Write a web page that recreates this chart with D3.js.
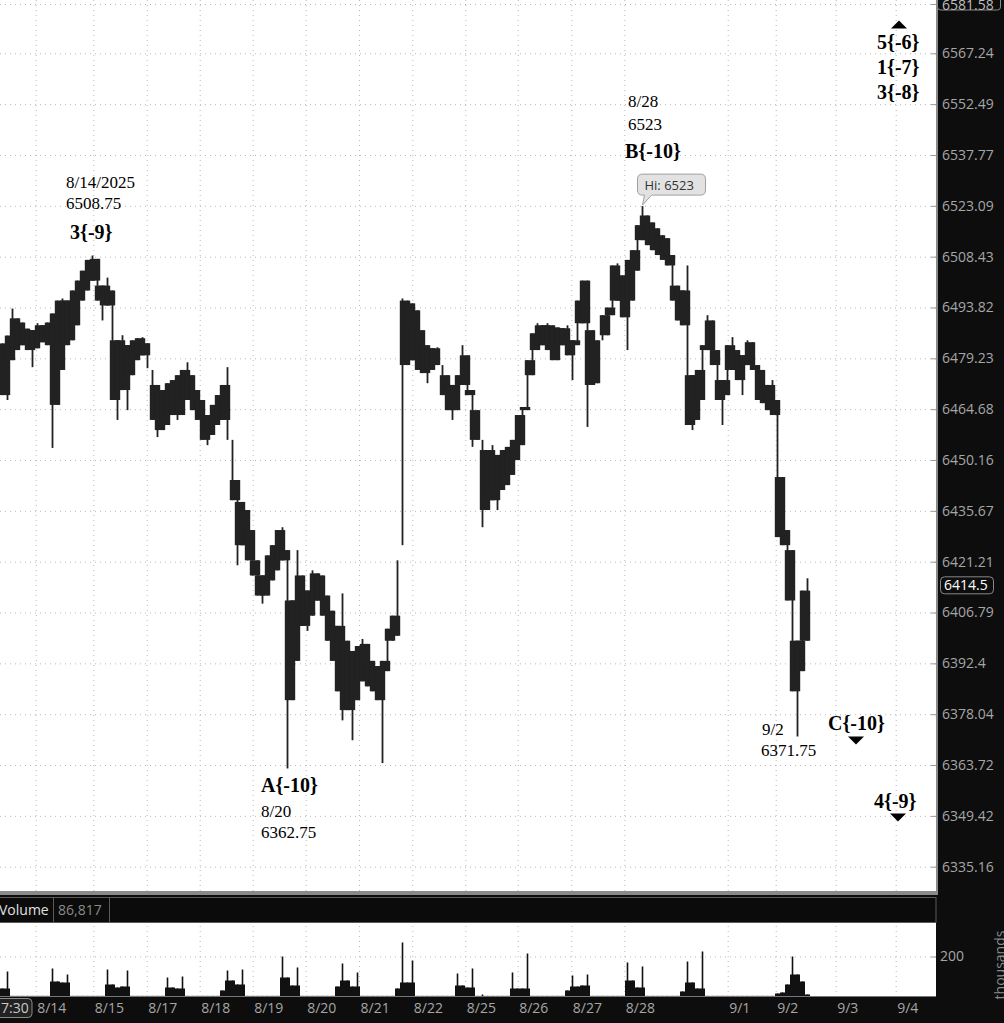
<!DOCTYPE html>
<html><head><meta charset="utf-8">
<script src="https://cdn.jsdelivr.net/npm/d3@7"></script>
<style>body{margin:0;background:#fff;overflow:hidden} svg{display:block}</style>
</head><body><svg id="c" width="1004" height="1023"></svg>
<script>
// ---------- DATA ----------
const priceTicks = [6581.58, 6567.24, 6552.49, 6537.77, 6523.09, 6508.43, 6493.82, 6479.23, 6464.68, 6450.16, 6435.67, 6421.21, 6406.79, 6392.4, 6378.04, 6363.72, 6349.42, 6335.16];
const dateLabels = ["8/14","8/15","8/17","8/18","8/19","8/20","8/21","8/22","8/25","8/26","8/27","8/28","9/1","9/2","9/3","9/4"];
const dateBars = [7.14, 18.66, 29.34, 39.94, 50.54, 61.14, 71.8, 82.46, 93.06, 103.54, 114.26, 124.86, 145.54, 155.14, 167.14, 179.14];
const highs = [6483.5,6485.75,6493.5,6490.7,6489.5,6487.75,6487.3,6489.3,6488.7,6489.5,
6492.1,6495.8,6496.4,6495.8,6498.7,6501.55,6504.4,6507.5,6508.75,6507.8,
6500.1,6502.4,6498.7,6484.4,6485.85,6483.0,6484.4,6485.0,6485.3,6483.56,
6475.9,6471.6,6470.15,6472.1,6473.0,6474.4,6475.9,6478.1,6474.4,6470.15,
6467.3,6463.0,6465.9,6468.7,6471.6,6476.7,6455.9,6444.45,6438.2,6435.9,
6430.2,6421.6,6417.3,6423.0,6425.9,6430.2,6431.0,6424.5,6410.2,6424.5,
6417.3,6413.0,6418.75,6417.9,6417.3,6411.6,6407.3,6403.0,6412.2,6398.8,
6395.9,6397.3,6399.3,6397.9,6393.1,6391.6,6393.1,6402.2,6405.9,6421.6,
6496.4,6495.8,6495.0,6493.0,6487.3,6483.0,6482.1,6482.4,6477.3,6474.4,
6471.6,6474.4,6483.0,6480.1,6470.15,6464.4,6455.9,6453.0,6454.4,6451.6,
6453.0,6453.9,6455.9,6463.0,6465.3,6478.7,6486.4,6489.3,6488.7,6489.3,
6488.7,6488.1,6487.85,6488.7,6484.4,6495.8,6501.55,6501.55,6487.3,6484.4,
6491.6,6493.8,6505.9,6506.5,6503.0,6507.5,6510.3,6517.5,6523.0,6520.3,
6518.3,6516.6,6514.6,6513.75,6508.9,6500.1,6498.7,6505.9,6474.4,6475.9,
6483.0,6491.6,6490.1,6481.6,6473.0,6483.0,6485.3,6481.6,6480.1,6484.4,
6483.85,6477.3,6475.9,6471.6,6473.0,6467.3,6445.3,6430.2,6424.5,6398.8,
6413.0,6416.5];
const lows = [6468.7,6467.3,6478.7,6481.6,6483.0,6481.6,6476.7,6482.1,6483.85,6483.0,
6453.6,6465.9,6475.9,6483.0,6484.4,6488.7,6495.8,6498.7,6501.55,6495.8,
6490.1,6494.4,6467.3,6461.6,6470.15,6464.4,6474.4,6478.7,6480.1,6476.4,
6461.6,6456.7,6458.7,6460.15,6463.0,6461.6,6463.0,6467.3,6464.4,6461.6,
6455.9,6454.4,6457.3,6460.15,6461.6,6455.9,6438.7,6420.2,6425.9,6421.6,
6417.3,6411.6,6409.3,6411.6,6415.9,6418.75,6421.6,6362.75,6382.0,6393.1,
6403.0,6401.6,6405.9,6410.2,6405.9,6398.8,6393.1,6384.5,6376.3,6379.2,
6370.7,6382.0,6387.35,6385.9,6384.5,6382.0,6364.25,6390.2,6398.8,6400.2,
6425.9,6477.3,6478.7,6475.9,6475.0,6472.1,6475.9,6477.3,6468.7,6464.4,
6461.6,6464.4,6471.6,6468.7,6453.9,6455.9,6431.0,6435.9,6438.7,6435.9,
6441.6,6443.0,6445.9,6450.16,6454.4,6464.4,6474.4,6481.6,6483.0,6481.6,
6478.7,6478.7,6483.0,6480.1,6473.0,6483.0,6489.3,6459.6,6471.6,6472.1,
6484.4,6485.85,6491.6,6495.8,6491.0,6481.6,6495.8,6504.4,6513.2,6511.75,
6510.3,6508.9,6507.5,6505.9,6495.8,6490.1,6488.7,6460.15,6458.7,6461.6,
6467.3,6481.6,6477.3,6467.3,6460.15,6468.7,6475.9,6473.0,6468.7,6477.3,
6475.9,6467.3,6466.4,6464.4,6463.0,6428.2,6425.9,6410.2,6384.5,6371.75,
6390.2,6398.8];
const volumes = [40,125,3,3,3,3,3,3,3,3,
140,75,70,110,3,3,3,3,3,3,
3,135,60,45,50,130,3,3,3,3,
3,3,3,95,45,40,100,3,3,3,
3,3,3,3,30,130,80,60,135,3,
3,3,3,3,3,3,200,95,55,145,
3,3,3,3,3,3,3,50,165,80,
50,120,3,3,3,3,3,3,3,40,
270,70,180,3,3,3,3,3,3,3,
3,115,55,45,140,3,10,3,3,3,
3,3,120,40,40,215,3,3,3,3,
3,3,3,30,105,50,55,110,3,3,
3,3,3,3,3,170,80,45,150,3,
3,3,3,3,3,3,25,175,70,40,
225,3,3,3,3,3,3,3,3,3,
3,3,3,3,3,15,20,60,200,110,
75,10];
const volumeTicks = [0, 200];
const lastPrice = 6414.5;
const topPrice = 6581.58;

// ---------- LAYOUT ----------
const W = 1004, H = 1023;
const PX = 936;
const MAIN_B = 891;
const VOL_T = 923, VOL_B = 997;
const svg = d3.select('#c');
const AX = "'Open Sans','Noto Sans',sans-serif";
const SERIF = "'Liberation Serif','Times New Roman',serif";

const x = d3.scaleLinear().domain([0, 187.2]).range([0, PX]);
const y = d3.scaleLog().domain([6335.16, 6567.24]).range([866.7, 53.3]);
const yv = d3.scaleLinear().domain([0, 200]).range([996.5, 956.5]);

svg.append('rect').attr('width', W).attr('height', H).attr('fill', '#0d0d0d');
svg.append('rect').attr('x', 0).attr('y', 0).attr('width', PX).attr('height', MAIN_B).attr('fill', '#fff');
svg.append('rect').attr('x', 0).attr('y', VOL_T).attr('width', PX).attr('height', VOL_B - VOL_T).attr('fill', '#fff');
svg.append('rect').attr('x', 0).attr('y', MAIN_B).attr('width', PX + 2).attr('height', 4).attr('fill', '#8a8a8a');
svg.append('rect').attr('x', -1).attr('y', 897.5).attr('width', PX + 1).attr('height', 25).attr('fill', '#0b0b0b').attr('stroke', '#5a5a5a');
svg.append('line').attr('x1', PX + 1).attr('x2', PX + 1).attr('y1', 0).attr('y2', MAIN_B).attr('stroke', '#8a8a8a').attr('stroke-width', 2);

const defs = svg.append('defs');
defs.append('clipPath').attr('id', 'mainClip').append('rect').attr('x', 0).attr('y', 0).attr('width', PX).attr('height', MAIN_B);
defs.append('clipPath').attr('id', 'volClip').append('rect').attr('x', 0).attr('y', VOL_T).attr('width', W).attr('height', VOL_B - VOL_T);

// ---------- GRID ----------
function styleGrid(g) { g.select('.domain').remove(); g.selectAll('line').attr('stroke', '#b8b8b8').attr('stroke-dasharray', '1,4'); }
styleGrid(svg.append('g').attr('transform', `translate(${PX},0)`)
  .call(d3.axisLeft(y).tickValues(priceTicks).tickSize(PX).tickFormat('')));
const tickMarks = svg.append('g').attr('transform', `translate(${PX},0)`)
  .call(d3.axisLeft(y).tickValues(priceTicks).tickSize(5).tickFormat(''));
tickMarks.select('.domain').remove();
tickMarks.selectAll('line').attr('stroke', '#9a9a9a');
styleGrid(svg.append('g').attr('transform', `translate(0,${MAIN_B})`)
  .call(d3.axisTop(x).tickValues(dateBars).tickSize(MAIN_B).tickFormat('')));
styleGrid(svg.append('g').attr('transform', `translate(0,${VOL_B})`)
  .call(d3.axisTop(x).tickValues(dateBars).tickSize(VOL_B - VOL_T).tickFormat('')));
styleGrid(svg.append('g').attr('transform', `translate(${PX},0)`)
  .call(d3.axisLeft(yv).tickValues([200]).tickSize(PX).tickFormat('')));

// ---------- PRICE BARS ----------
const bw = x(1) - x(0);
const bars = svg.append('g').attr('clip-path', 'url(#mainClip)');
const idx = d3.range(highs.length);
// thin high-low line of each bar
bars.selectAll('rect.hl').data(idx).join('rect').attr('class', 'hl')
  .attr('x', i => x(i + 0.5) - 0.9).attr('width', 1.8)
  .attr('y', i => y(highs[i]))
  .attr('height', i => Math.max(1.5, y(lows[i]) - y(highs[i])))
  .attr('fill', '#222');
// dense part: where a bar overlaps its neighbours
const dense = [];
idx.forEach(i => {
  [i - 1, i + 1].forEach(j => {
    if (j < 0 || j >= highs.length) return;
    const lo = Math.max(lows[i], lows[j]), hi = Math.min(highs[i], highs[j]);
    if (hi > lo) dense.push({ i, lo, hi });
  });
});
bars.selectAll('rect.dn').data(dense).join('rect').attr('class', 'dn')
  .attr('x', d => x(d.i) - 0.2).attr('width', bw + 0.4)
  .attr('y', d => y(d.hi)).attr('height', d => Math.max(1, y(d.lo) - y(d.hi)))
  .attr('fill', '#222');

// ---------- VOLUME ----------
const vol = svg.append('g').attr('clip-path', 'url(#volClip)');
vol.selectAll('rect.vl').data(idx).join('rect').attr('class', 'vl')
  .attr('x', i => x(i + 0.5) - 0.8).attr('width', 1.6)
  .attr('y', i => yv(volumes[i])).attr('height', i => yv(0) - yv(volumes[i]))
  .attr('fill', '#111');
vol.selectAll('rect.vb').data(idx).join('rect').attr('class', 'vb')
  .attr('x', i => x(i)).attr('width', bw)
  .attr('y', i => yv(Math.min(volumes[i], Math.max(volumes[i - 1] || 0, volumes[i + 1] || 0))))
  .attr('height', i => yv(0) - yv(Math.min(volumes[i], Math.max(volumes[i - 1] || 0, volumes[i + 1] || 0))))
  .attr('fill', '#111');

// ---------- AXES ----------
const yAxis = svg.append('g').attr('transform', `translate(${PX},0)`)
  .call(d3.axisRight(y).tickValues(priceTicks.slice(1)).tickSize(0).tickPadding(6).tickFormat(d => String(d)));
yAxis.select('.domain').remove();
yAxis.selectAll('text').attr('fill', '#a6a6a6').style('font-family', AX).style('font-size', '14px');

svg.append('rect').attr('x', 937.5).attr('y', -6).attr('width', 63).attr('height', 16).attr('rx', 3)
  .attr('fill', '#0d0d0d').attr('stroke', '#8a8a8a');
svg.append('text').attr('x', 942).attr('y', y(topPrice) + 2).attr('dy', '0.32em').text(String(topPrice))
  .attr('fill', '#bdbdbd').style('font-family', AX).style('font-size', '14px');

svg.append('rect').attr('x', 940.5).attr('y', y(lastPrice) - 8.5).attr('width', 53).attr('height', 17).attr('rx', 4)
  .attr('fill', '#0d0d0d').attr('stroke', '#8a8a8a');
svg.append('text').attr('x', 944).attr('y', y(lastPrice)).attr('dy', '0.34em').text(String(lastPrice))
  .attr('fill', '#fff').style('font-family', AX).style('font-size', '14px');

const vAxis = svg.append('g').attr('transform', `translate(${PX},0)`).attr('clip-path', 'url(#volClip)')
  .call(d3.axisRight(yv).tickValues(volumeTicks).tickSize(0).tickPadding(4).tickFormat(d => String(d)));
vAxis.select('.domain').remove();
vAxis.selectAll('text').attr('fill', '#a6a6a6').style('font-family', AX).style('font-size', '14px')
  .attr('dy', d => d === 0 ? '0.9em' : '0.32em');
const vTick = svg.append('g').attr('transform', `translate(${PX},0)`)
  .call(d3.axisLeft(yv).tickValues([200]).tickSize(5).tickFormat(''));
vTick.select('.domain').remove();
vTick.selectAll('line').attr('stroke', '#9a9a9a');
svg.append('line').attr('x1', 0).attr('x2', PX).attr('y1', VOL_B - 0.5).attr('y2', VOL_B - 0.5).attr('stroke', '#777');

svg.append('text').attr('transform', 'translate(1005,965) rotate(-90)').attr('text-anchor', 'middle')
  .text('thousands').attr('fill', '#8a8a8a').style('font-family', AX).style('font-size', '14px');

const xAxis = svg.append('g').attr('transform', `translate(0,${VOL_B})`)
  .call(d3.axisBottom(x).tickValues(dateBars).tickSize(0).tickPadding(0).tickFormat((d, i) => dateLabels[i]));
xAxis.select('.domain').remove();
xAxis.selectAll('text').attr('fill', '#a6a6a6').attr('text-anchor', 'start').attr('x', 1).attr('y', 16)
  .attr('dy', 0).style('font-family', AX).style('font-size', '14px');

svg.append('rect').attr('x', -8).attr('y', 998.5).attr('width', 40).attr('height', 19).attr('rx', 4)
  .attr('fill', '#222').attr('stroke', '#8a8a8a');
svg.append('text').attr('x', 1).attr('y', 1013).text('7:30').attr('fill', '#c8c8c8')
  .style('font-family', AX).style('font-size', '14px');

svg.append('text').attr('x', -1).attr('y', 915).text('Volume').attr('fill', '#e0e0e0').style('font-family', AX).style('font-size', '14px');
svg.append('line').attr('x1', 53.5).attr('x2', 53.5).attr('y1', 898).attr('y2', 922).attr('stroke', '#5a5a5a');
svg.append('text').attr('x', 58).attr('y', 915).text('86,817').attr('fill', '#8a8a8a').style('font-family', AX).style('font-size', '14px');
svg.append('line').attr('x1', 109.5).attr('x2', 109.5).attr('y1', 898).attr('y2', 922).attr('stroke', '#5a5a5a');

// ---------- HI CALLOUT ----------
const hiIdx = highs.indexOf(d3.max(highs));
const hx = x(hiIdx + 0.5), hy = y(highs[hiIdx]);
const bx = hx - 5, by = hy - 32, bwid = 68, bht = 21;
svg.append('path')
  .attr('d', `M${bx + 5},${by} h${bwid - 10} q5,0 5,5 v${bht - 10} q0,5 -5,5 H${hx + 9} L${hx},${hy - 1} L${hx + 2},${by + bht} H${bx + 5} q-5,0 -5,-5 v${-(bht - 10)} q0,-5 5,-5 Z`)
  .attr('fill', '#e2e2e2').attr('stroke', '#a0a0a0');
svg.append('text').attr('x', bx + 7).attr('y', by + 15.5).text('Hi: ' + highs[hiIdx])
  .attr('fill', '#333').style('font-family', AX).style('font-size', '13px');

// ---------- ANNOTATIONS ----------
const ann = svg.append('g');
function t(xp, yp, s, bold, size) {
  ann.append('text').attr('x', xp).attr('y', yp).text(s).attr('fill', '#000')
    .style('font-family', SERIF).style('font-size', (size || (bold ? 20 : 17)) + 'px')
    .style('font-weight', bold ? 'bold' : 'normal');
}
t(66, 188, '8/14/2025'); t(66, 209, '6508.75'); t(70, 239, '3{-9}', true);
t(628, 107, '8/28'); t(628, 130, '6523'); t(625, 158, 'B{-10}', true);
t(261, 792, 'A{-10}', true); t(261, 817, '8/20'); t(261, 838, '6362.75');
t(762, 735, '9/2'); t(761, 756, '6371.75');
t(828, 730, 'C{-10}', true);
t(874, 808, '4{-9}', true);
t(877, 49, '5{-6}', true); t(877, 74, '1{-7}', true); t(877, 99, '3{-8}', true);
function tri(cx, cy, up) {
  const p = up ? `M${cx - 8},${cy + 4} L${cx + 8},${cy + 4} L${cx},${cy - 4} Z` : `M${cx - 8},${cy - 4} L${cx + 8},${cy - 4} L${cx},${cy + 4} Z`;
  ann.append('path').attr('d', p).attr('fill', '#000');
}
tri(899, 24.5, true); tri(856, 740.5, false); tri(898, 817.5, false);
</script></body></html>
